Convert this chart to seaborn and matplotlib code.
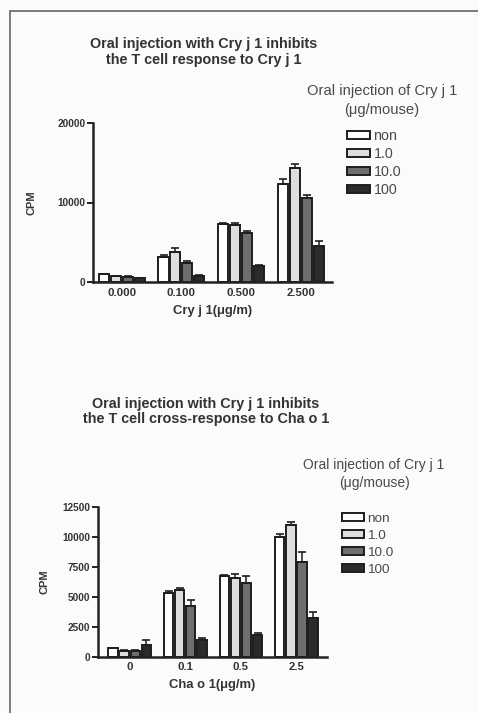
import numpy as np
import pandas as pd
import seaborn as sns
import matplotlib.pyplot as plt
from matplotlib.lines import Line2D

# ---- data -------------------------------------------------------------
doses = ["non", "1.0", "10.0", "100"]

cry_conc = ["0.000", "0.100", "0.500", "2.500"]
cry_non = [950, 3150, 7250, 12350]
cry_1 = [700, 3800, 7200, 14400]
cry_10 = [650, 2450, 6200, 10600]
cry_100 = [450, 800, 2050, 4500]
cry_non_sem = [80, 250, 200, 600]
cry_1_sem = [60, 500, 200, 500]
cry_10_sem = [60, 250, 250, 400]
cry_100_sem = [40, 80, 150, 600]

cha_conc = ["0", "0.1", "0.5", "2.5"]
cha_non = [700, 5300, 6700, 10000]
cha_1 = [500, 5550, 6600, 10950]
cha_10 = [500, 4200, 6150, 7900]
cha_100 = [950, 1400, 1800, 3250]
cha_non_sem = [60, 150, 100, 200]
cha_1_sem = [50, 150, 300, 300]
cha_10_sem = [50, 550, 550, 850]
cha_100_sem = [450, 150, 200, 450]

bar_colors = ["#ffffff", "#dedede", "#6e6e6e", "#2b2b2b"]

# ---- figure -----------------------------------------------------------
sns.set_theme(style="ticks")
plt.rcParams["font.family"] = ["Liberation Sans", "DejaVu Sans"]

W, H = 478, 713
fig = plt.figure(figsize=(W / 100, H / 100), dpi=100)
fig.patch.set_facecolor("#fbfbfb")


def fx(px):
    return px / W


def fy(py):
    return 1 - py / H


def panel(box, cats, series, sems, ylim, yticks, xlim, xlabel, ylab_x,
          title, title_xy, leg_title_xy, leg_xy, leg_fs, leg_sp):
    left, top, right, bottom = box
    ax = fig.add_axes([fx(left), fy(bottom), fx(right) - fx(left),
                       fy(top) - fy(bottom)])
    ax.set_facecolor("none")
    rows = []
    for dose, vals in zip(doses, series):
        for c, v in zip(cats, vals):
            rows.append({"conc": c, "cpm": v, "dose": dose})
    df = pd.DataFrame(rows)
    sns.barplot(data=df, x="conc", y="cpm", hue="dose", order=cats,
                hue_order=doses, palette=bar_colors, edgecolor="#1e1e1e",
                linewidth=1.4, errorbar=None, width=0.8, gap=0.16, ax=ax)
    # one-sided SEM bars on top of each column
    for cont, sem in zip(ax.containers, sems):
        xs = [b.get_x() + b.get_width() / 2 for b in cont]
        ys = [b.get_height() for b in cont]
        ax.errorbar(xs, ys, yerr=[np.zeros(len(sem)), sem], fmt="none",
                    ecolor="#1e1e1e", elinewidth=1.1, capsize=2.6,
                    capthick=1.2, zorder=1)

    leg = ax.get_legend()
    handles = leg.legend_handles
    labels = [t.get_text() for t in leg.get_texts()]
    leg.remove()

    ax.set_xlim(*xlim)
    ax.set_ylim(*ylim)
    ax.set_yticks(yticks)
    ax.set_yticklabels([str(t) for t in yticks])
    sns.despine(ax=ax)
    for s in ("left", "bottom"):
        ax.spines[s].set_linewidth(1.8)
        ax.spines[s].set_color("#222222")
    ax.tick_params(axis="y", length=4, width=1.4, color="#222222",
                   labelsize=7.2, pad=1.5, direction="out")
    ax.tick_params(axis="x", length=0, labelsize=8.2, pad=4)
    for t in ax.get_yticklabels() + ax.get_xticklabels():
        t.set_fontweight("bold")
        t.set_color("#333333")
    ax.set_xlabel(xlabel, fontsize=9.4, fontweight="bold", color="#333333",
                  labelpad=5)
    ax.set_ylabel("CPM", fontsize=8, fontweight="bold", color="#333333")
    ax.yaxis.set_label_coords(ylab_x, 0.5)

    fig.text(fx(title_xy[0]), fy(title_xy[1]), title, ha="center",
             va="center", fontsize=10.4, fontweight="bold", color="#333333",
             linespacing=1.1)
    fig.text(fx(leg_title_xy[0]), fy(leg_title_xy[1]),
             "Oral injection of Cry j 1\n(\u03bcg/mouse)", ha="center",
             va="center", fontsize=leg_fs, color="#4a4a4a",
             linespacing=1.38)
    fig.legend(handles, labels, loc="upper left",
               bbox_to_anchor=(fx(leg_xy[0]), fy(leg_xy[1])),
               frameon=False, fontsize=leg_fs - 0.3, labelcolor="#4a4a4a",
               handlelength=1.6, handleheight=0.5, handletextpad=0.25,
               labelspacing=leg_sp, borderpad=0, borderaxespad=0)
    return ax


panel((93, 123, 332, 282), cry_conc,
      [cry_non, cry_1, cry_10, cry_100],
      [cry_non_sem, cry_1_sem, cry_10_sem, cry_100_sem],
      (0, 20000), [0, 10000, 20000], (-0.48, 3.52),
      "Cry j 1(\u03bcg/m)", -0.235,
      "Oral injection with Cry j 1 inhibits\nthe T cell response to Cry j 1",
      (204, 52), (382, 100.5), (347, 129), 10.6, 0.28)

panel((98, 506.7, 327, 656.7), cha_conc,
      [cha_non, cha_1, cha_10, cha_100],
      [cha_non_sem, cha_1_sem, cha_10_sem, cha_100_sem],
      (0, 12500), [0, 2500, 5000, 7500, 10000, 12500], (-0.57, 3.55),
      "Cha o 1(\u03bcg/m)", -0.21,
      "Oral injection with Cry j 1 inhibits\nthe T cell cross-response to Cha o 1",
      (206, 411.5), (374, 474), (342, 513), 10.0, 0.36)

# page frame
fig.add_artist(Line2D([fx(10), 1.0], [fy(11), fy(11)], color="#666666",
                      lw=1.2, transform=fig.transFigure))
fig.add_artist(Line2D([fx(10), fx(10)], [fy(11), 0.0], color="#666666",
                      lw=1.2, transform=fig.transFigure))

fig.savefig("out.png", dpi=100, facecolor=fig.get_facecolor())
